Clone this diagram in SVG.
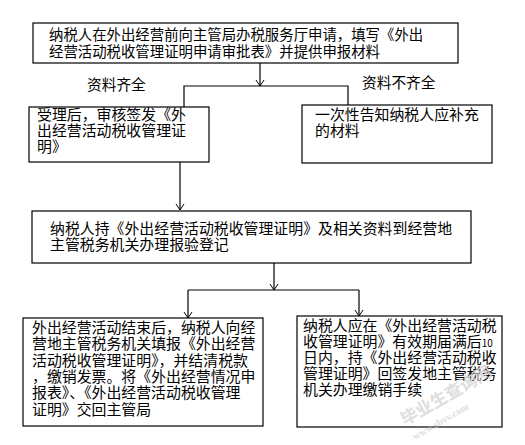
<svg xmlns="http://www.w3.org/2000/svg" width="525" height="445" viewBox="0 0 525 445">
<style>
.box{fill:#fff;stroke:#000;stroke-width:1.2}
.t{font-family:"Noto Sans CJK SC","Noto Sans CJK JP",sans-serif;font-size:14.9px;fill:#000}
.c{fill:none;stroke:#000;stroke-width:1.2}
.wm{font-family:"Noto Sans CJK SC",sans-serif;fill:#d6d6d6;font-weight:bold}
</style>
<defs>
<marker id="ah" markerUnits="userSpaceOnUse" markerWidth="12" markerHeight="12" refX="0" refY="0" viewBox="-7 -6 8 12" orient="auto">
<path d="M-6,-4 L0,0 L-6,4" fill="none" stroke="#000" stroke-width="1"/>
</marker>
</defs>
<rect width="525" height="445" fill="#fff"/>
<g id="connectors">
<path class="c" d="M260,63 V86" marker-end="url(#ah)"/>
<path class="c" d="M184,107 V86 H348 V105"/>
<path class="c" d="M180,162 V210" marker-end="url(#ah)"/>
<path class="c" d="M274,263 V290" marker-end="url(#ah)"/>
<path class="c" d="M188,290 H359"/>
<path class="c" d="M188,290 V318" marker-end="url(#ah)"/>
<path class="c" d="M359,290 V316" marker-end="url(#ah)"/>
</g>
<g id="label-yes"><text class="t" x="87" y="90" style="font-size:14.7px">资料齐全</text></g>
<g id="label-no"><text class="t" x="362" y="88" style="font-size:14.7px">资料不齐全</text></g>
<g id="n1">
<rect class="box" x="33" y="23" width="425" height="40"/>
<text class="t" x="49" y="40" style="font-size:14.4px">纳税人在外出经营前向主管局办税服务厅申请，填写《外出</text>
<text class="t" x="49" y="57" style="font-size:14.4px">经营活动税收管理证明申请审批表》并提供申报材料</text>
</g>
<g id="n2">
<rect class="box" x="29" y="107" width="180" height="55"/>
<text class="t" x="37" y="120">受理后，审核签发《外</text>
<text class="t" x="37" y="136">出经营活动税收管理证</text>
<text class="t" x="37" y="152">明》</text>
</g>
<g id="n3">
<rect class="box" x="302" y="105" width="190" height="58"/>
<text class="t" x="315" y="120">一次性告知纳税人应补充</text>
<text class="t" x="315" y="136">的材料</text>
</g>
<g id="n4">
<rect class="box" x="32" y="211" width="439" height="52"/>
<text class="t" x="50" y="234">纳税人持《外出经营活动税收管理证明》及相关资料到经营地</text>
<text class="t" x="50" y="250">主管税务机关办理报验登记</text>
</g>
<g id="n5">
<rect class="box" x="23" y="318" width="240" height="108"/>
<text class="t" x="32" y="333">外出经营活动结束后，纳税人向经</text>
<text class="t" x="32" y="349">营地主管税务机关填报《外出经营</text>
<text class="t" x="32" y="366">活动税收管理证明》，并结清税款</text>
<text class="t" x="32" y="382">，缴销发票。将《外出经营情况申</text>
<text class="t" x="32" y="398">报表》、《外出经营活动税收管理</text>
<text class="t" x="32" y="415">证明》交回主管局</text>
</g>
<g id="n6">
<rect class="box" x="297" y="316" width="205" height="111"/>
<text class="t" x="303" y="331">纳税人应在《外出经营活动税</text>
<text class="t" x="303" y="347">收管理证明》有效期届满后<tspan style="font-size:10px">10</tspan></text>
<text class="t" x="303" y="363">日内，持《外出经营活动税收</text>
<text class="t" x="303" y="379">管理证明》回签发地主管税务</text>
<text class="t" x="303" y="395">机关办理缴销手续</text>
</g>
<g id="watermark" opacity="0.8">
<text class="wm" transform="translate(405,426) rotate(-30)" style="font-size:17px">毕业生查询网</text>
<text class="wm" transform="translate(415,440) rotate(-30)" style="font-size:10px;font-family:'Liberation Serif',serif">www.sbvv.com</text>
</g>
</svg>
